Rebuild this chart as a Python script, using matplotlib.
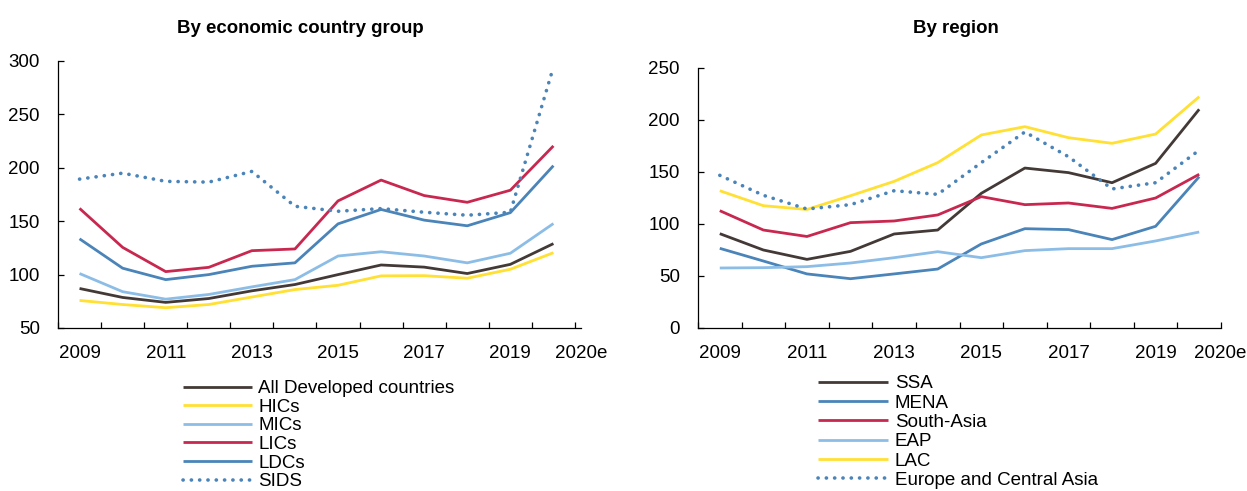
import matplotlib
matplotlib.use("Agg")
import matplotlib.pyplot as plt

plt.rcParams['font.family'] = ['Liberation Sans', 'DejaVu Sans']

# ---------------- data ----------------
years = ['2009', '2010', '2011', '2012', '2013', '2014', '2015', '2016',
         '2017', '2018', '2019', '2020e']
shown_labels = ['2009', '2011', '2013', '2015', '2017', '2019', '2020e']

# By economic country group
all_developed = [87, 78.6, 74, 77.6, 84.8, 90.7, 100, 109, 107, 101, 109.6, 129]
hics = [75.8, 72, 69, 72, 79, 86, 90, 98.8, 99, 96.6, 105, 120.5]
mics = [101, 84, 77, 81.4, 88.5, 95.3, 117.4, 121.4, 117.4, 111, 120, 147.8]
lics = [162, 125.5, 102.8, 106.8, 122.4, 124, 169, 188.5, 174, 167.7, 179, 220.5]
ldcs = [133.5, 106, 95.3, 100, 107.8, 111, 147.5, 161, 151, 145.7, 158, 202]
sids = [189.4, 195, 187.3, 186.6, 196.6, 164, 159.3, 161.8, 158.4, 155.6, 158.4, 294.4]

# By region
ssa = [90.7, 75, 66, 73.7, 90.4, 94.2, 129.5, 153.8, 149.4, 139.7, 158.3, 210.3]
mena = [76.6, 64.4, 52, 47.4, 52, 56.7, 80.8, 95.5, 94.6, 85, 97.8, 145.5]
south_asia = [112.8, 94.2, 88, 101.3, 102.9, 108.7, 126.3, 118.6, 120.2, 115, 125, 147.8]
eap = [57.7, 58, 59, 62.5, 67.6, 73.4, 67.6, 74.4, 76.3, 76.3, 83.7, 92.3]
lac = [132, 117.6, 114, 127.2, 141, 159, 185.6, 193.6, 183, 177.6, 186.5, 222.4]
eca = [146.8, 127.6, 114.4, 118.6, 132, 128.5, 159, 188.5, 164.7, 133.7, 139.7, 171]

# ---------------- styles ----------------
C_DARK = '#433a37'
C_YEL = '#ffe033'
C_LBLUE = '#8cbde6'
C_RED = '#c8284f'
C_BLUE = '#4a84b8'

W, H = 1247, 491
fig = plt.figure(figsize=(W / 100, H / 100), dpi=100)
ax1 = fig.add_axes([58 / W, 1 - 328 / H, 523 / W, 267 / H])
ax2 = fig.add_axes([698 / W, 1 - 328 / H, 523 / W, 260 / H])

x = list(range(len(years)))
LW = 2.0
FS = 13.5
dot_style = dict(linestyle=(0, (0.05, 2.25)), dash_capstyle='round', linewidth=2.6)

left_series = [
    (all_developed, 'All Developed countries', C_DARK, {}),
    (hics, 'HICs', C_YEL, {}),
    (mics, 'MICs', C_LBLUE, {}),
    (lics, 'LICs', C_RED, {}),
    (ldcs, 'LDCs', C_BLUE, {}),
    (sids, 'SIDS', C_BLUE, dot_style),
]
right_series = [
    (ssa, 'SSA', C_DARK, {}),
    (mena, 'MENA', C_BLUE, {}),
    (south_asia, 'South-Asia', C_RED, {}),
    (eap, 'EAP', C_LBLUE, {}),
    (lac, 'LAC', C_YEL, {}),
    (eca, 'Europe and Central Asia', C_BLUE, dot_style),
]


def draw(ax, series, ylim, last_pos):
    for vals, lab, col, extra in series:
        kw = dict(color=col, linewidth=LW, label=lab, solid_capstyle='butt')
        kw.update(extra)
        ax.plot(x, vals, **kw)
    ax.set_xlim(-0.5, len(years) - 0.5)
    ax.set_ylim(*ylim)
    ax.set_yticks(range(ylim[0], ylim[1] + 1, 50))
    for s in ['top', 'right']:
        ax.spines[s].set_visible(False)
    for s in ['left', 'bottom']:
        ax.spines[s].set_linewidth(0.9)
        ax.spines[s].set_color('black')
    # category boundaries as major ticks (no labels)
    ax.set_xticks([i - 0.5 for i in range(len(years) + 1)])
    ax.set_xticklabels([])
    ax.tick_params(axis='x', which='major', direction='in', length=4, width=0.9)
    # labels at categories
    pos = [years.index(l) for l in shown_labels[:-1]] + [last_pos]
    ax.set_xticks(pos, minor=True)
    ax.set_xticklabels(shown_labels, minor=True)
    ax.tick_params(axis='x', which='minor', length=0, pad=12, labelsize=FS)
    ax.tick_params(axis='y', direction='in', length=4, width=0.9, pad=13, labelsize=FS)


draw(ax1, left_series, (50, 300), 11.64)
draw(ax2, right_series, (0, 250), 11.48)

fig.text(300 / W, 1 - 33 / H, 'By economic country group', ha='center', va='baseline',
         fontsize=13.4, fontweight='bold')
fig.text(956 / W, 1 - 33 / H, 'By region', ha='center', va='baseline',
         fontsize=13.4, fontweight='bold')

fpx = FS * 100 / 72
ax1.legend(loc='upper left', bbox_to_anchor=(183 / W, 1 - 380 / H), bbox_transform=fig.transFigure,
           frameon=False, borderpad=0, borderaxespad=0, fontsize=FS,
           handlelength=69 / fpx, handletextpad=6 / fpx, labelspacing=0.08)
ax2.legend(loc='upper left', bbox_to_anchor=(818 / W, 1 - 375 / H), bbox_transform=fig.transFigure,
           frameon=False, borderpad=0, borderaxespad=0, fontsize=FS,
           handlelength=70 / fpx, handletextpad=7 / fpx, labelspacing=0.12)

fig.savefig('out.png', dpi=100)
